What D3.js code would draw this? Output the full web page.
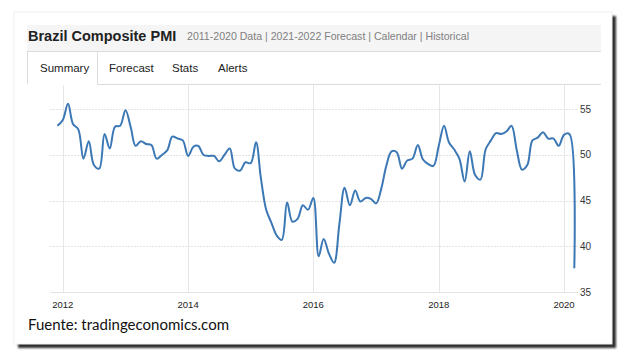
<!DOCTYPE html>
<html>
<head>
<meta charset="utf-8">
<script src="https://cdn.jsdelivr.net/npm/d3@7"></script>
<style>
  body { margin: 0; background: #fff; }
  text { font-family: "Liberation Sans", Arial, sans-serif; }
</style>
</head>
<body>
<div id="chart"></div>
<script>
const W = 630, H = 362;

// monthly composite PMI, Dec 2011 .. Mar 2020
const firstMonth = new Date(2011, 11, 1);
const pmi = [
  53.2, 53.8, 55.6, 53.4, 52.8, 49.6, 51.5, 48.9, 48.5, 52.3, 50.7, 53.1,
  53.2, 54.9, 53.0, 51.0, 51.5, 51.2, 51.1, 49.6, 50.0, 50.5, 52.0, 51.8,
  51.6, 49.9, 50.9, 51.0, 50.0, 49.9, 49.9, 49.3, 50.0, 50.7, 48.5, 48.3,
  49.2, 49.1, 51.4, 47.5, 44.0, 42.6, 41.2, 40.7, 44.8, 42.7, 43.0, 44.5,
  44.0, 45.3, 38.9, 40.8, 39.2, 38.2, 42.5, 46.4, 44.5, 46.1, 44.9, 45.3,
  45.2, 44.7, 46.4, 48.8, 50.4, 50.3, 48.5, 49.4, 49.6, 51.1, 49.5, 49.0,
  48.8, 51.0, 53.2, 51.4, 50.6, 49.6, 47.1, 50.4, 47.8, 47.3, 50.6, 51.6,
  52.4, 52.3, 52.6, 53.2, 50.5, 48.4, 48.9, 51.6, 51.9, 52.5, 51.8, 51.8,
  51.0, 52.2, 52.3, 37.6
];
const yTicks = [35, 40, 45, 50, 55];
const xTicks = [2012, 2014, 2016, 2018, 2020];
const tabs = ["Summary", "Forecast", "Stats", "Alerts"];

const data = pmi.map((v, i) => ({date: d3.timeMonth.offset(firstMonth, i), value: v}));

const svg = d3.select("#chart").append("svg")
    .attr("width", W)
    .attr("height", H);

// frame with shadow
const defs = svg.append("defs");
defs.append("filter").attr("id", "blur")
    .attr("x", "-5%").attr("y", "-5%").attr("width", "110%").attr("height", "110%")
  .append("feGaussianBlur").attr("stdDeviation", 1.2);

svg.append("rect")
    .attr("x", 18).attr("y", 16)
    .attr("width", 598).attr("height", 332)
    .attr("fill", "#2e2e2e")
    .attr("filter", "url(#blur)");
svg.append("rect")
    .attr("x", 14).attr("y", 12)
    .attr("width", 598).attr("height", 332)
    .attr("fill", "#fff")
    .attr("stroke", "#f0f0f0");

// title bar
svg.append("rect")
    .attr("x", 27).attr("y", 25)
    .attr("width", 574).attr("height", 26)
    .attr("fill", "#f5f5f5");
svg.append("line")
    .attr("x1", 27).attr("x2", 601).attr("y1", 51.5).attr("y2", 51.5)
    .attr("stroke", "#dcdcdc");

svg.append("text")
    .attr("x", 28).attr("y", 40.5)
    .attr("font-size", "14.5px")
    .attr("font-weight", "bold")
    .attr("fill", "#222")
    .text("Brazil Composite PMI");

svg.append("text")
    .attr("x", 187).attr("y", 40)
    .attr("font-size", "11.5px")
    .attr("fill", "#808080")
    .attr("textLength", 282)
    .attr("lengthAdjust", "spacingAndGlyphs")
    .text("2011-2020 Data | 2021-2022 Forecast | Calendar | Historical");

// tabs
svg.append("path")
    .attr("d", "M27.5,52 V84.5 M97.5,52 V84.5 M97.5,84.5 H601")
    .attr("fill", "none")
    .attr("stroke", "#dcdcdc");

const tabX = [40, 109, 172, 218];
svg.append("g").selectAll("text")
    .data(tabs)
    .join("text")
    .attr("x", (d, i) => tabX[i])
    .attr("y", 72)
    .attr("font-size", "11.5px")
    .attr("fill", "#222")
    .text(d => d);

// chart
const x = d3.scaleTime()
    .domain([new Date(2012, 0, 1), new Date(2020, 0, 1)])
    .range([62.7, 564]);

const y = d3.scaleLinear()
    .domain([35, 55])
    .range([292, 109.3]);

// vertical grid
svg.append("g").selectAll("line")
    .data(xTicks)
    .join("line")
    .attr("x1", d => Math.round(x(new Date(d, 0, 1))) + 0.5)
    .attr("x2", d => Math.round(x(new Date(d, 0, 1))) + 0.5)
    .attr("y1", 85).attr("y2", 292)
    .attr("stroke", "#e6e6e6");

// horizontal grid
svg.append("g").selectAll("line")
    .data(yTicks)
    .join("line")
    .attr("x1", 50).attr("x2", 578)
    .attr("y1", d => Math.round(y(d)) + 0.5)
    .attr("y2", d => Math.round(y(d)) + 0.5)
    .attr("stroke", "#e3e3e3")
    .attr("stroke-dasharray", d => d === 35 ? null : "2,1");

// y labels
svg.append("g").selectAll("text")
    .data(yTicks)
    .join("text")
    .attr("x", 580)
    .attr("y", d => y(d) + 3.5)
    .attr("font-size", "10px")
    .attr("fill", "#333")
    .text(d => d);

// x labels
svg.append("g").selectAll("text")
    .data(xTicks)
    .join("text")
    .attr("x", d => x(new Date(d, 0, 1)))
    .attr("y", 307.5)
    .attr("text-anchor", "middle")
    .attr("font-size", "9.5px")
    .attr("fill", "#222")
    .text(d => d);

// line
const line = d3.line()
    .x(d => x(d.date))
    .y(d => y(d.value))
    .curve(d3.curveCatmullRom.alpha(0.5));

svg.append("path")
    .datum(data)
    .attr("d", line)
    .attr("fill", "none")
    .attr("stroke", "#3b78b5")
    .attr("stroke-width", 2)
    .attr("stroke-linejoin", "round");

// source
svg.append("text")
    .attr("x", 28).attr("y", 330)
    .attr("font-size", "14.5px")
    .attr("fill", "#111")
    .style("font-family", "Lato, 'Open Sans', sans-serif")
    .attr("textLength", 201)
    .attr("lengthAdjust", "spacingAndGlyphs")
    .text("Fuente: tradingeconomics.com");
</script>
</body>
</html>
